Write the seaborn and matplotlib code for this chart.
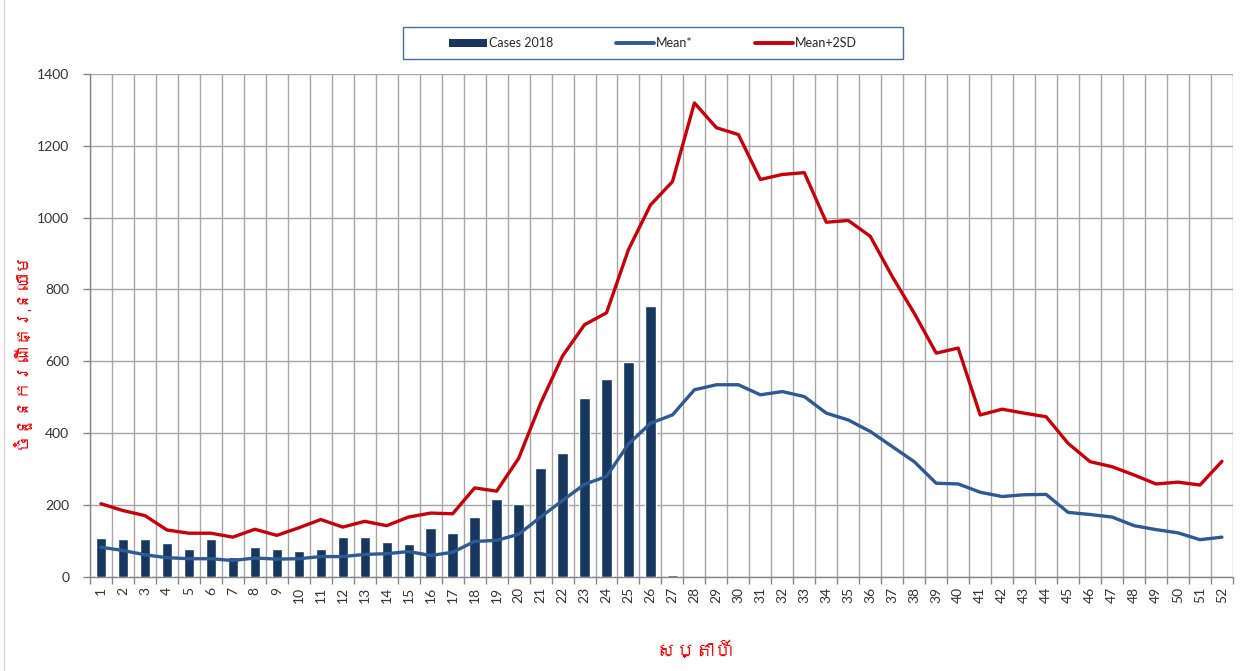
import matplotlib
matplotlib.use("Agg")
import matplotlib.pyplot as plt
import seaborn as sns
import numpy as np
import pandas as pd
from matplotlib import font_manager
from matplotlib.ft2font import FT2Font
from matplotlib.patches import Rectangle, Patch
from matplotlib.lines import Line2D

# data
weeks = list(range(1, 53))
cases_2018 = [108, 105, 105, 95, 77, 105, 56, 84, 77, 73,
              77, 112, 112, 98, 91, 137, 123, 166, 216, 202,
              303, 346, 497, 551, 598, 755, 5]
mean_star = [83, 74, 62, 54, 51, 51, 46, 53, 50, 51,
             57, 57, 63, 65, 71, 60, 69, 99, 102, 119,
             167, 213, 258, 280, 370, 428, 451, 521, 535, 535,
             507, 516, 502, 456, 437, 405, 363, 321, 261, 259,
             236, 224, 229, 230, 180, 174, 167, 143, 132, 123,
             104, 111]
mean_2sd = [204, 185, 171, 131, 122, 122, 111, 133, 116, 137,
            160, 139, 155, 143, 167, 178, 176, 248, 239, 330,
            483, 615, 702, 735, 911, 1035, 1100, 1319, 1250, 1231,
            1106, 1120, 1125, 987, 992, 948, 836, 734, 623, 637,
            451, 467, 456, 446, 372, 321, 307, 284, 259, 264,
            256, 322]

legend_labels = ["Cases 2018", "Mean*", "Mean+2SD"]
y_label = "ចំនួនករណីគ្រុនឈាម"
x_label = "សប្តាហ៍"

BAR_COLOR = "#17375E"
MEAN_COLOR = "#2E5A93"
SD_COLOR = "#C8000A"
GRID_COLOR = "#A6A6A6"
TEXT_COLOR = "#333333"
LABEL_RED = "#FF0000"


def find_font_for(ch):
    # look for an installed font that has the Khmer glyphs
    for f in font_manager.fontManager.ttflist:
        try:
            if ord(ch) in FT2Font(f.fname).get_charmap():
                return f.name
        except Exception:
            pass
    return None


def main():
    sns.set_theme(style="white")
    khmer_font = find_font_for("ច")
    families = ["Lato"] + ([khmer_font] if khmer_font else []) + ["DejaVu Sans"]
    plt.rcParams["font.family"] = families

    fig = plt.figure(figsize=(12.41, 6.71), dpi=100)
    ax = fig.add_axes([0.0725, 0.140, 0.921, 0.750])

    order = [str(w) for w in weeks]
    df_cases = pd.DataFrame({"week": order[:len(cases_2018)], "cases": cases_2018})
    sns.barplot(data=df_cases, x="week", y="cases", order=order, color=BAR_COLOR,
                saturation=1, width=0.47, ax=ax, zorder=3)

    # lines on the same category positions (week 1 -> 0)
    pos = np.array(weeks) - 1
    sns.lineplot(x=pos, y=mean_star, color=MEAN_COLOR, linewidth=2.4, ax=ax, zorder=4)
    sns.lineplot(x=pos, y=mean_2sd, color=SD_COLOR, linewidth=2.4, ax=ax, zorder=5)

    ax.set_xlim(-0.5, 51.5)
    ax.set_ylim(0, 1400)
    ax.set_yticks(range(0, 1401, 200))
    ax.set_xticks(pos)
    ax.set_xticklabels(order, rotation=90)
    ax.set_xticks(np.arange(-0.5, 52, 1), minor=True)

    ax.grid(False)
    ax.grid(True, axis="x", which="minor", color=GRID_COLOR, linewidth=1.0, zorder=0)
    ax.grid(True, axis="y", which="major", color=GRID_COLOR, linewidth=1.0, zorder=0)
    ax.set_axisbelow(True)

    ax.tick_params(axis="x", which="major", length=0, pad=7, labelsize=10, labelcolor=TEXT_COLOR)
    ax.tick_params(axis="x", which="minor", length=5, width=1, color="#868686", bottom=True)
    ax.tick_params(axis="y", which="major", length=5, width=1, color="#868686", left=True,
                   pad=10, labelsize=10, labelcolor=TEXT_COLOR)

    for side in ["top", "right"]:
        ax.spines[side].set_visible(False)
    for side in ["left", "bottom"]:
        ax.spines[side].set_color("#868686")
        ax.spines[side].set_linewidth(1.0)

    kfam = [khmer_font] if khmer_font else ["DejaVu Sans"]
    ax.set_ylabel(y_label, color=LABEL_RED, fontsize=13, fontweight="bold", family=kfam)
    ax.yaxis.set_label_coords(-0.0525, 0.451)
    ax.set_xlabel(x_label, color=LABEL_RED, fontsize=14, fontweight="bold", family=kfam)
    ax.xaxis.set_label_coords(0.530, -0.125)

    # legend with a box like the excel one
    handles = [Patch(facecolor=BAR_COLOR, edgecolor="none"),
               Line2D([], [], color=MEAN_COLOR, linewidth=2.8),
               Line2D([], [], color=SD_COLOR, linewidth=2.8)]
    fig.legend(handles, legend_labels, loc="center", bbox_to_anchor=(0.5265, 0.936),
               ncol=3, frameon=False, fontsize=9, handlelength=3.0, handleheight=0.6,
               handletextpad=0.2, columnspacing=5.0)
    fig.add_artist(Rectangle((403 / 1241, 1 - 59 / 671), 500 / 1241, 32 / 671,
                             transform=fig.transFigure, fill=False,
                             edgecolor="#41719C", linewidth=1.0))
    fig.add_artist(Line2D([4 / 1241, 4 / 1241], [0, 1], transform=fig.transFigure,
                          color="#D9D9D9", linewidth=1.0))

    fig.savefig("out.png", dpi=100)


if __name__ == "__main__":
    main()
